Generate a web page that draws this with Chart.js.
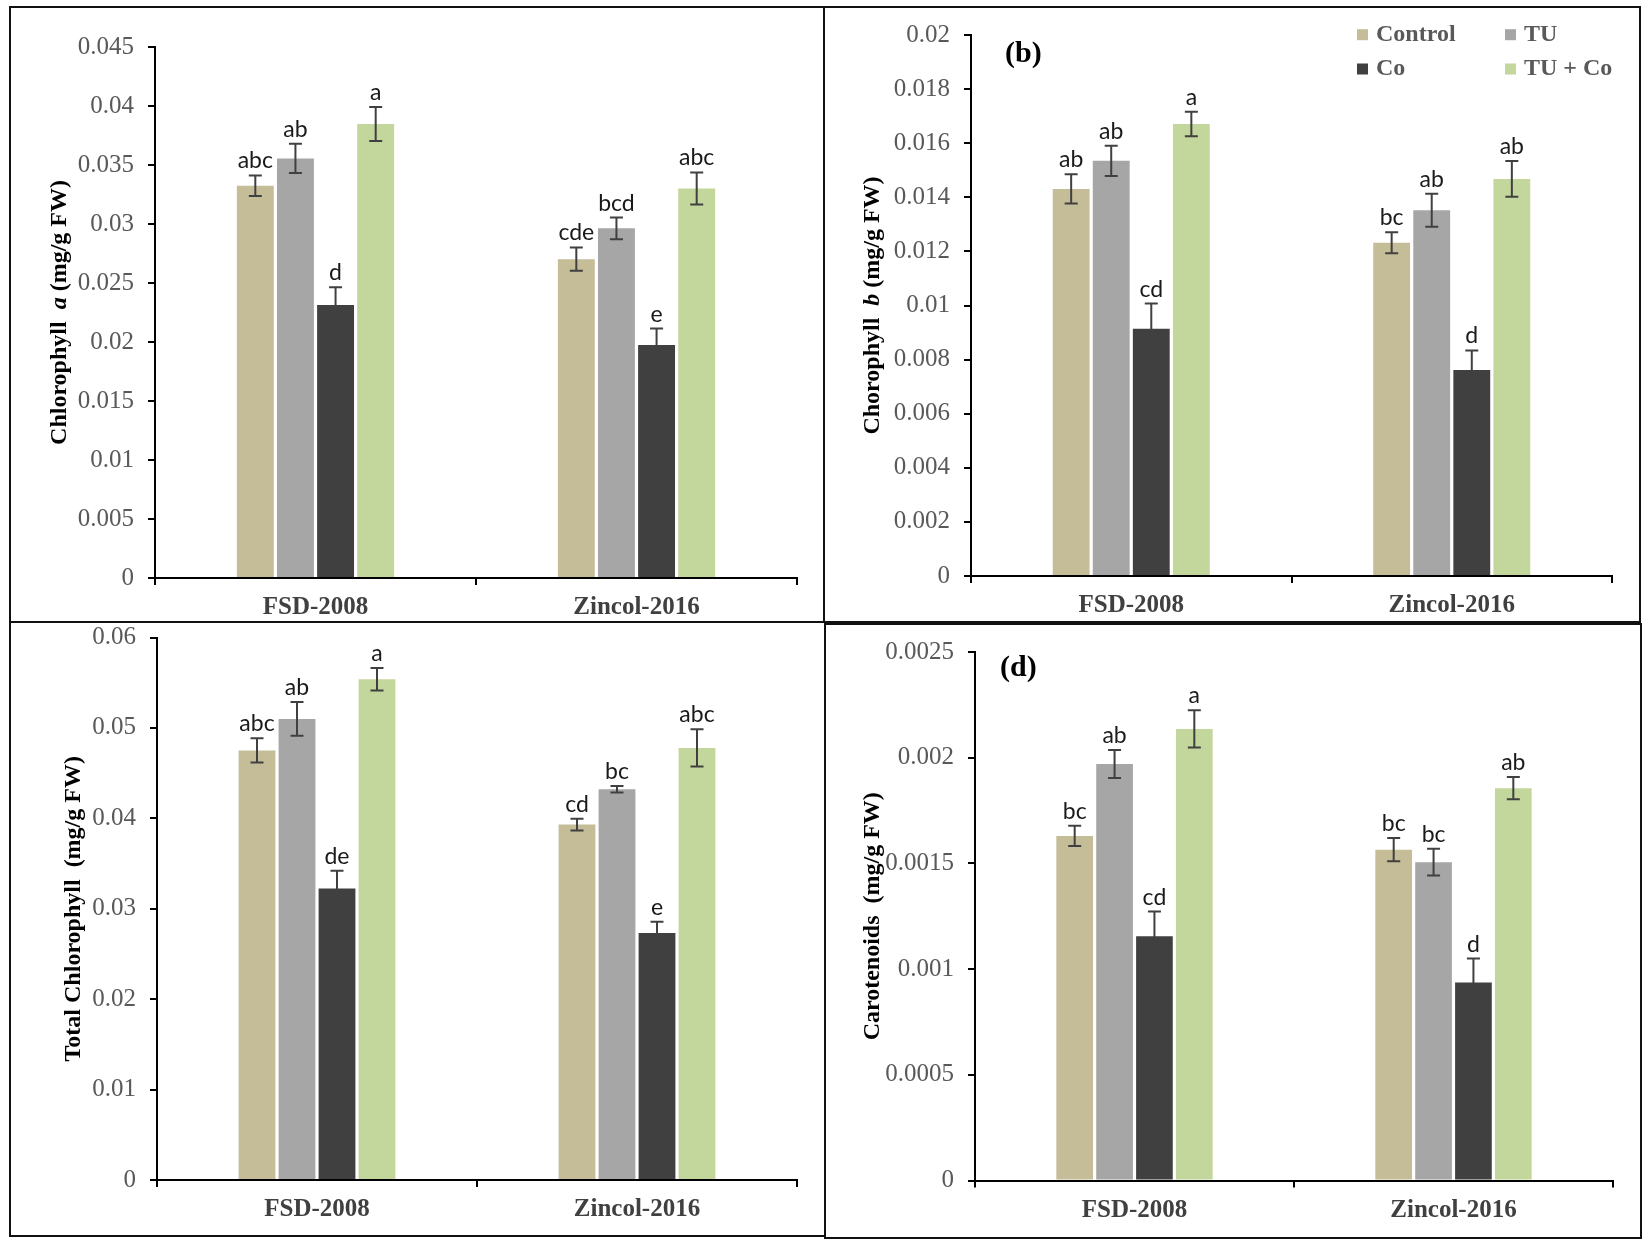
<!DOCTYPE html>
<html>
<head>
<meta charset="utf-8">
<script src="https://cdn.jsdelivr.net/npm/chart.js@4.4.1/dist/chart.umd.min.js"></script>
<style>
  body { margin: 0; background: #fff; width: 1651px; height: 1245px; position: relative; overflow: hidden; }
  canvas { position: absolute; }
  .box { position: absolute; border: 2px solid #111; box-sizing: border-box; pointer-events: none; }
</style>
</head>
<body>
<canvas id="chartA" width="814" height="615" style="left:10px;top:7px"></canvas>
<canvas id="chartB" width="816" height="615" style="left:824px;top:7px"></canvas>
<canvas id="chartC" width="815" height="637" style="left:10px;top:600px"></canvas>
<canvas id="chartD" width="816" height="614" style="left:825px;top:624px"></canvas>
<div class="box" style="left:9px;top:6px;width:816px;height:617px"></div>
<div class="box" style="left:823px;top:6px;width:818px;height:617px"></div>
<div class="box" style="left:9px;top:621px;width:817px;height:616px"></div>
<div class="box" style="left:824px;top:623px;width:818px;height:616px"></div>
<script>
const categories = ['FSD-2008', 'Zincol-2016'];
const seriesNames = ['Control', 'TU', 'Co', 'TU + Co'];
const seriesColors = ['#c4bd97', '#a6a6a6', '#404040', '#c3d69b'];

// one row per series: [FSD-2008, Zincol-2016]
const chlAMeans = [[0.03325, 0.02702], [0.03556, 0.02963], [0.02314, 0.01975], [0.03847, 0.03301]];
const chlAErrors = [[0.00087, 0.00099], [0.00124, 0.00092], [0.0015, 0.00139], [0.00144, 0.00136]];
const chlALetters = [['abc', 'cde'], ['ab', 'bcd'], ['d', 'e'], ['a', 'abc']];

const chlBMeans = [[0.01431, 0.01232], [0.01535, 0.01352], [0.00914, 0.00762], [0.01671, 0.01468]];
const chlBErrors = [[0.00054, 0.00039], [0.00056, 0.00061], [0.00093, 0.00072], [0.00045, 0.00066]];
const chlBLetters = [['ab', 'bc'], ['ab', 'ab'], ['cd', 'd'], ['a', 'ab']];

const totalMeans = [[0.04751, 0.03931], [0.0510, 0.04321], [0.03224, 0.02731], [0.05539, 0.04778]];
const totalErrors = [[0.00134, 0.00065], [0.00188, 0.00036], [0.00197, 0.00125], [0.00125, 0.00206]];
const totalLetters = [['abc', 'cd'], ['ab', 'bc'], ['de', 'e'], ['a', 'abc']];

const carMeans = [[0.00163, 0.001565], [0.00197, 0.001506], [0.001155, 0.000937], [0.002136, 0.001856]];
const carErrors = [[0.000048, 0.000055], [0.000066, 0.000063], [0.000117, 0.000113], [0.000088, 0.000053]];
const carLetters = [['bc', 'bc'], ['ab', 'bc'], ['cd', 'd'], ['a', 'ab']];

const serif = '"Liberation Serif", "Times New Roman", serif';

const panelPlugin = (opts) => ({
  id: 'panelExtras',
  afterDatasetsDraw(chart) {
    const ctx = chart.ctx;
    const y = chart.scales.y;
    chart.data.datasets.forEach((ds, i) => {
      chart.getDatasetMeta(i).data.forEach((bar, j) => {
        const v = ds.data[j];
        const e = ds.errors[j];
        const top = y.getPixelForValue(v + e);
        const bot = y.getPixelForValue(v - e);
        ctx.save();
        ctx.strokeStyle = '#404040';
        ctx.lineWidth = 2;
        ctx.beginPath();
        ctx.moveTo(bar.x, top); ctx.lineTo(bar.x, bot);
        ctx.moveTo(bar.x - 6.5, top); ctx.lineTo(bar.x + 6.5, top);
        ctx.moveTo(bar.x - 6.5, bot); ctx.lineTo(bar.x + 6.5, bot);
        ctx.stroke();
        ctx.fillStyle = '#1a1a1a';
        ctx.font = '23px Lato';
        ctx.textAlign = 'center';
        ctx.textBaseline = 'alphabetic';
        ctx.fillText(ds.letters[j], bar.x, top - 7);
        ctx.restore();
      });
    });
  },
  afterDraw(chart) {
    const ctx = chart.ctx;
    const area = chart.chartArea;

    // y axis title, with italic pieces
    ctx.save();
    ctx.translate(opts.titleX, (area.top + area.bottom) / 2);
    ctx.rotate(-Math.PI / 2);
    ctx.fillStyle = '#000';
    ctx.textBaseline = 'middle';
    ctx.textAlign = 'left';
    const fonts = opts.title.map(p => (p[1] ? 'italic ' : '') + 'bold 24px ' + serif);
    const widths = opts.title.map((p, k) => { ctx.font = fonts[k]; return ctx.measureText(p[0]).width; });
    let x = -widths.reduce((a, b) => a + b, 0) / 2;
    opts.title.forEach((p, k) => {
      ctx.font = fonts[k];
      ctx.fillText(p[0], x, 0);
      x += widths[k];
    });
    ctx.restore();

    if (opts.tag) {
      ctx.save();
      ctx.fillStyle = '#000';
      ctx.font = 'bold 30px ' + serif;
      ctx.textBaseline = 'middle';
      ctx.fillText(opts.tag, opts.tagX, opts.tagY);
      ctx.restore();
    }

    if (opts.legend) {
      ctx.save();
      ctx.font = 'bold 24px ' + serif;
      ctx.textBaseline = 'alphabetic';
      chart.data.datasets.forEach((ds, i) => {
        const lx = opts.legend.x[i % 2];
        const ly = opts.legend.y[Math.floor(i / 2)];
        ctx.fillStyle = ds.backgroundColor;
        ctx.fillRect(lx, ly - 11.5, 11, 11);
        ctx.fillStyle = '#595959';
        ctx.fillText(ds.label, lx + 19, ly);
      });
      ctx.restore();
    }
  }
});

function makePanel(id, means, errors, letters, opts) {
  new Chart(document.getElementById(id), {
    type: 'bar',
    data: {
      labels: categories,
      datasets: seriesNames.map((name, i) => ({
        label: name,
        data: means[i],
        errors: errors[i],
        letters: letters[i],
        backgroundColor: seriesColors[i],
        categoryPercentage: 0.5,
        barPercentage: 0.92
      }))
    },
    options: {
      responsive: false,
      animation: false,
      devicePixelRatio: 1,
      layout: { padding: { left: 0, top: opts.top, right: opts.right, bottom: 0 } },
      plugins: { legend: { display: false }, tooltip: { enabled: false } },
      scales: {
        x: {
          grid: { offset: true, drawOnChartArea: false, tickLength: 7, color: '#000', lineWidth: 2 },
          border: { color: '#000', width: 2 },
          ticks: { font: { family: serif, size: 25, weight: 'bold' }, color: '#404040', padding: 8 },
          afterFit: (s) => { s.height = opts.xh; }
        },
        y: {
          min: 0,
          max: opts.max,
          ticks: {
            stepSize: opts.step,
            callback: (v) => String(+v.toFixed(6)),
            font: { family: serif, size: 25, lineHeight: 1 },
            color: '#595959',
            padding: 14
          },
          grid: { drawOnChartArea: false, tickLength: 7, color: '#000', lineWidth: 2 },
          border: { color: '#000', width: 2 },
          afterFit: (s) => { s.width = opts.yw; }
        }
      }
    },
    plugins: [panelPlugin(opts)]
  });
}

makePanel('chartA', chlAMeans, chlAErrors, chlALetters, {
  max: 0.045, step: 0.005, yw: 145, top: 40, right: 27, xh: 44, titleX: 50,
  title: [['Chlorophyll  ', false], ['a', true], [' (mg/g FW)', false]]
});
makePanel('chartB', chlBMeans, chlBErrors, chlBLetters, {
  max: 0.02, step: 0.002, yw: 147, top: 28, right: 28, xh: 46, titleX: 49,
  title: [['Chorophyll  ', false], ['b', true], [' (mg/g FW)', false]],
  tag: '(b)', tagX: 181, tagY: 47,
  legend: { x: [533, 681], y: [33.7, 68] }
});
makePanel('chartC', totalMeans, totalErrors, totalLetters, {
  max: 0.06, step: 0.01, yw: 147, top: 37.5, right: 28, xh: 57, titleX: 64,
  title: [['Total Chlorophyll  (mg/g FW)', false]]
});
makePanel('chartD', carMeans, carErrors, carLetters, {
  max: 0.0025, step: 0.0005, yw: 150, top: 28, right: 28, xh: 57.5, titleX: 48,
  title: [['Carotenoids  (mg/g FW)', false]],
  tag: '(d)', tagX: 175, tagY: 44
});
</script>
</body>
</html>
